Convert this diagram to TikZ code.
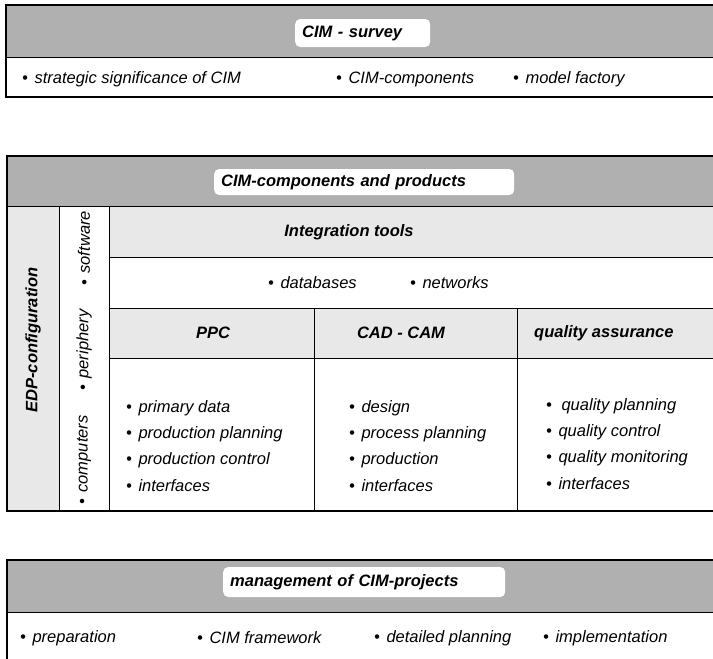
\documentclass[tikz,border=0pt]{standalone}
\usepackage{fontspec}
\setmainfont{Liberation Sans}
\usetikzlibrary{positioning}

\newcommand{\bul}{\textbullet\hspace{0.4em}}
\newcommand{\ttlfont}{\fontsize{16.5}{19}\selectfont\bfseries\itshape}
\newcommand{\itmfont}{\fontsize{16.5}{19}\selectfont\itshape}

\tikzset{
  band/.style={fill=gray!62},
  light/.style={fill=gray!18},
  frame/.style={line width=1.2pt},
  rule/.style={line width=0.8pt},
  title/.style={fill=white, rounded corners=5pt, font=\ttlfont, inner xsep=7pt, minimum height=28pt, align=left, anchor=west},
  head/.style={font=\ttlfont},
  item/.style={font=\itmfont, anchor=west, inner sep=0pt}
}

\begin{document}
\begin{tikzpicture}[x=1pt,y=-1pt]
\useasboundingbox (0,0) rectangle (713,659);

% CIM - survey
\fill [band] (6,5) rectangle (720,57);
\draw [frame] (720,5) -- (6,5) -- (6,97) -- (720,97);
\draw [rule] (6,57) -- (720,57);
\node (survey) [title, text width=121pt] at (295,33) {CIM - survey};

\node (sv1) [item] at (22,79) {\bul strategic significance of CIM};
\node (sv2) [item] at (336,79) {\bul CIM-components};
\node (sv3) [item] at (513,79) {\bul model factory};

% CIM-components and products
\fill [band] (7,156) rectangle (720,206);
\fill [light] (7,206) rectangle (59,511);
\fill [light] (109,206) rectangle (720,257);
\fill [light] (109,308) rectangle (720,358);
\draw [frame] (720,156) -- (7,156) -- (7,511) -- (720,511);
\draw [rule] (7,206) -- (720,206);
\draw [rule] (59,206) -- (59,511);
\draw [rule] (109,206) -- (109,511);
\draw [rule] (109,257) -- (720,257);
\draw [rule] (109,308) -- (720,308);
\draw [rule] (109,358) -- (720,358);
\draw [rule] (314,308) -- (314,511);
\draw [rule] (517,308) -- (517,511);
\node (comp) [title, text width=286pt, minimum height=26pt] at (214,182) {CIM-components and products};

\node (edp) [head, rotate=90] at (33,340) {EDP-configuration};
\node (hw1) [item, rotate=90] at (84,505) {\bul computers};
\node (hw2) [item, rotate=90] at (84,391) {\bul periphery};
\node (hw3) [item, rotate=90] at (84,286) {\bul software};

\node (integ) [head] at (349,232) {Integration tools};
\node (db) [item] at (268,283) {\bul databases};
\node (net) [item] at (410,283) {\bul networks};

\node (ppc) [head] at (213,333) {PPC};
\node (cad) [head] at (401,333) {CAD - CAM};
\node (qa) [head, anchor=west, inner sep=0pt] at (534,333) {quality assurance};

\node (ppc1) [item] at (126,408) {\bul primary data};
\node (ppc2) [item] at (126,434) {\bul production planning};
\node (ppc3) [item] at (126,460) {\bul production control};
\node (ppc4) [item] at (126,486) {\bul interfaces};

\node (cad1) [item] at (349,408) {\bul design};
\node (cad2) [item] at (349,434) {\bul process planning};
\node (cad3) [item] at (349,460) {\bul production};
\node (cad4) [item] at (349,486) {\bul interfaces};

\node (qa1) [item] at (546,406) {\bul\hspace{3pt}quality planning};
\node (qa2) [item] at (546,432) {\bul quality control};
\node (qa3) [item] at (546,458) {\bul quality monitoring};
\node (qa4) [item] at (546,484) {\bul interfaces};

% management of CIM-projects
\fill [band] (7,560) rectangle (720,612);
\draw [frame] (720,560) -- (7,560) -- (7,670);
\draw [rule] (7,612) -- (720,612);
\node (mgmt) [title, text width=268pt, minimum height=30pt] at (223,582) {management of CIM-projects};

\node (mg1) [item] at (20,638) {\bul preparation};
\node (mg2) [item] at (197,638) {\bul CIM framework};
\node (mg3) [item] at (374,638) {\bul detailed planning};
\node (mg4) [item] at (543,638) {\bul implementation};
\end{tikzpicture}
\end{document}
